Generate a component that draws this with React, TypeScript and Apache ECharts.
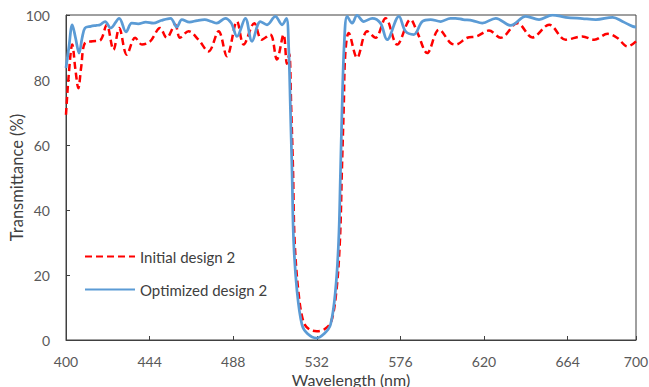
import React, { useEffect, useRef } from "react";
import * as echarts from "echarts";

const xTicks = [400, 444, 488, 532, 576, 620, 664, 700];
const seriesNames = ["Initial design 2", "Optimized design 2"];

const initialX = [400, 401.5, 403.3, 405, 406.5, 408, 410, 414, 418, 421.4, 425, 428, 432, 436.4, 440, 444.3, 449.5, 453, 457.5, 460, 464.5, 469.7, 475, 480.3, 484.7, 490, 493.5, 499.1, 503, 507.5, 511, 514.5, 516.3, 517.5, 518.5, 519.5, 520.3, 522.3, 525, 528, 532, 536, 539.5, 542.3, 544.2, 545.2, 546.2, 547, 548.8, 553.2, 558.5, 562.9, 568.2, 574.3, 581.3, 585, 590.1, 596.3, 602.4, 605, 611.2, 616, 622.6, 628.8, 637.6, 645.5, 654.3, 663, 671.8, 678, 685, 690, 695.6, 700];
const initialY = [69.3, 82, 90.9, 83, 77.5, 84, 91.4, 91.9, 92.2, 97, 89.3, 96, 87.8, 93, 90.9, 91.9, 96, 93, 97, 93, 95, 92.4, 88.8, 95, 87.3, 98, 90.9, 97.5, 92.4, 94, 86.3, 94, 85, 88, 72, 52, 31, 15, 5.5, 3.3, 2.7, 3.3, 5.5, 15, 31, 52, 72, 88, 94.5, 86.8, 95, 93, 99, 90.9, 98.6, 94.5, 88.3, 95.5, 91.4, 90.9, 93, 93.4, 95.2, 93, 97.5, 93.1, 97, 92.4, 93.4, 92.4, 94.2, 93, 90.3, 91.9];

const optimizedX = [400, 401.5, 403.3, 405, 406.9, 408.5, 410, 413, 416, 418, 420.6, 423.5, 428, 431.6, 434.6, 438, 442, 446, 450, 455, 458.3, 461, 465, 469, 473, 476.5, 479.4, 483.8, 487, 490, 494.4, 497.9, 502.3, 505.8, 510.2, 513.7, 516, 517.2, 518.1, 519, 519.8, 521.6, 524.2, 527, 531.8, 536, 539.2, 541.8, 543.5, 544.4, 545.3, 546.5, 548, 550.6, 553.2, 556.7, 561.2, 565.5, 569, 575.2, 578.7, 583.1, 587.5, 591.9, 597.2, 602.4, 605, 609, 613.9, 619.1, 626.2, 634, 642, 649, 656, 663, 671.8, 678.9, 687.7, 692.9, 698.2, 700];
const optimizedY = [83.7, 90, 97, 93, 88.3, 93, 96, 96.5, 96.8, 97, 98, 96, 99, 94.8, 97.5, 97.3, 97.8, 97.5, 98.3, 99, 96.3, 98.6, 97.8, 98.3, 98.6, 98, 97.5, 99, 97.5, 93.4, 99, 91.9, 98, 97, 99.6, 97, 99, 90, 71.4, 51, 30.5, 15, 4.7, 2, 0.6, 2, 4.7, 15, 30.5, 50, 71.4, 92, 99.6, 97.5, 99.9, 98, 99, 97.5, 92.4, 99.6, 95, 94, 98, 98.6, 98, 99, 99, 98.6, 98.3, 97.5, 99, 96.8, 99.6, 98.6, 100, 99.3, 98.9, 98.6, 99.3, 98, 96.5, 96.3];

const pair = (xs: number[], ys: number[]) => xs.map((x, i) => [x, ys[i]]);

export default function App() {
  const ref = useRef<HTMLDivElement>(null);
  useEffect(() => {
    if (!ref.current) return;
    const chart = echarts.init(ref.current, undefined, { renderer: "svg" });
    const font = "Lato, 'Open Sans', sans-serif";
    const axisColor = "#404040";
    chart.setOption({
      animation: false,
      backgroundColor: "#ffffff",
      textStyle: { fontFamily: font },
      grid: {
        left: 66,
        right: 13,
        top: 15,
        bottom: 47,
        show: true,
        borderColor: axisColor,
        borderWidth: 1,
        containLabel: false,
        outerBoundsMode: "none",
      },
      legend: {
        orient: "vertical",
        left: 84,
        top: 249,
        padding: 0,
        itemWidth: 50,
        itemHeight: 14,
        itemGap: 18,
        itemStyle: { opacity: 0 },
        textStyle: { fontFamily: font, fontSize: 15, color: "#404040" },
        data: seriesNames,
      },
      xAxis: {
        type: "value",
        min: 400,
        max: 700,
        name: "Wavelength (nm)",
        nameLocation: "middle",
        nameGap: 31,
        nameMoveOverlap: false,
        nameTextStyle: { fontFamily: font, fontSize: 16, color: "#404040" },
        axisLine: { show: true, lineStyle: { color: axisColor, width: 1 } },
        axisTick: { show: true, inside: true, length: 4, customValues: xTicks, lineStyle: { color: axisColor } },
        axisLabel: { customValues: xTicks, fontFamily: font, fontSize: 14, color: "#595959", margin: 14 },
        splitLine: { show: false },
      },
      yAxis: {
        type: "value",
        min: 0,
        max: 100,
        interval: 20,
        name: "Transmittance (%)",
        nameLocation: "middle",
        nameGap: 41,
        nameMoveOverlap: false,
        nameTextStyle: { fontFamily: font, fontSize: 16.5, color: "#404040" },
        axisLine: { show: true, lineStyle: { color: axisColor, width: 1 } },
        axisTick: { show: true, inside: true, length: 4, lineStyle: { color: axisColor } },
        axisLabel: { fontFamily: font, fontSize: 14, color: "#595959", margin: 16 },
        splitLine: { show: false },
      },
      series: [
        {
          name: seriesNames[0],
          type: "line",
          data: pair(initialX, initialY),
          symbol: "none",
          smooth: 0.35,
          color: "#ff0000",
          lineStyle: { color: "#ff0000", width: 2.5, type: [7, 4] },
          z: 2,
        },
        {
          name: seriesNames[1],
          type: "line",
          data: pair(optimizedX, optimizedY),
          symbol: "none",
          smooth: 0.35,
          color: "#5b9bd5",
          lineStyle: { color: "#5b9bd5", width: 2.75 },
          z: 3,
        },
      ],
    });
    return () => chart.dispose();
  }, []);
  return (
    <div
      ref={ref}
      style={{ position: "fixed", left: 0, top: 0, width: 649, height: 387, background: "#fff" }}
    />
  );
}
